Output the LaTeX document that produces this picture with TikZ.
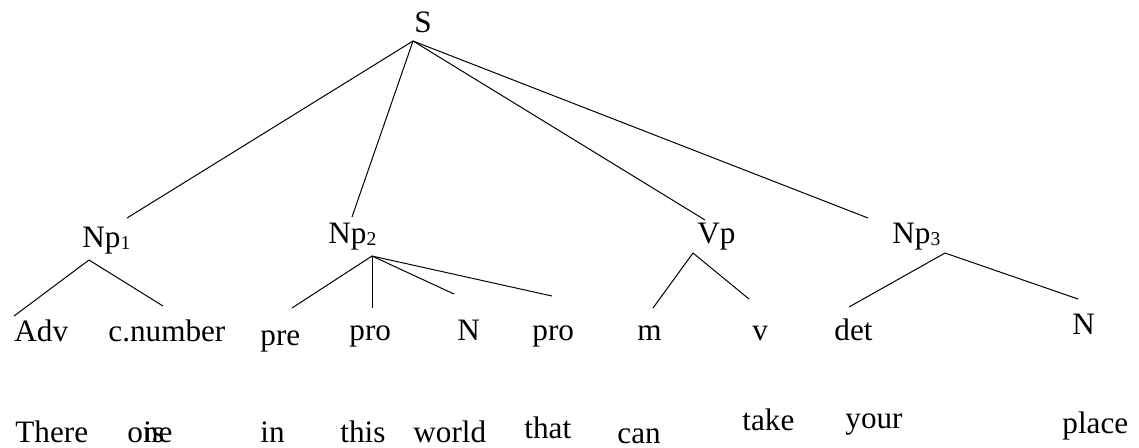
\documentclass[tikz,border=0pt]{standalone}
\usepackage{fontspec}
\setmainfont{Liberation Serif}
\usetikzlibrary{positioning}
\tikzset{
  lab/.style={inner sep=0pt,anchor=base west,font=\fontsize{15.6}{18}\selectfont},
  br/.style={line width=0.5pt,black}
}
\newcommand{\subn}[1]{\raisebox{-1pt}{\fontsize{9.8}{11}\selectfont #1}}

\begin{document}
\begin{tikzpicture}[x=0.5pt,y=-0.5pt]
\useasboundingbox (0,0) rectangle (1139,447);
% phrase level
\node[lab,anchor=base] (s) at (423,32) {S};
\node[lab] (np1) at (82,247) {Np\subn{1}};
\node[lab] (np2) at (328,243) {Np\subn{2}};
\node[lab] (vp) at (697,243) {Vp};
\node[lab] (np3) at (892,243) {Np\subn{3}};
% word classes
\node[lab] (adv) at (14,341) {Adv};
\node[lab] (cnum) at (108,341) {c.number};
\node[lab] (pre) at (260,345) {pre};
\node[lab] (proa) at (349,340) {pro};
\node[lab] (na) at (457,340) {N};
\node[lab] (prob) at (532,340) {pro};
\node[lab] (m) at (637,340) {m};
\node[lab] (v) at (752,340) {v};
\node[lab] (det) at (834,340) {det};
\node[lab] (nb) at (1072,334) {N};
% words
\foreach \x/\y/\w [count=\i] in {15/442/There,127/442/one,143/442/is,260/442/in,
  340/442/this,413/442/world,524/438/that,617/443/can,742/430/take,
  845/428/your,1062/433/place}
  \node[lab] (w\i) at (\x,\y) {\w};
% branch points
\coordinate (s-o) at (413,41);
\coordinate (np1-o) at (89,260);
\coordinate (np2-o) at (372,256);
\coordinate (vp-o) at (693,253);
\coordinate (np3-o) at (945,253);
\coordinate (np1-e) at (127,218);
\coordinate (np2-e) at (352,217);
\coordinate (vp-e) at (705,220);
\coordinate (np3-e) at (868,218);
\coordinate (adv-e) at (14,316);
\coordinate (cnum-e) at (163,306);
\coordinate (pre-e) at (292,308);
\coordinate (proa-e) at (372,308);
\coordinate (na-e) at (454,294);
\coordinate (prob-e) at (552,296);
\coordinate (m-e) at (653,308);
\coordinate (v-e) at (749,299);
\coordinate (det-e) at (849,307);
\coordinate (nb-e) at (1078,299);
% branches
\foreach \e in {np1,np2,vp,np3}{\draw[br] (s-o) -- (\e-e);}
\foreach \e in {adv,cnum}{\draw[br] (np1-o) -- (\e-e);}
\foreach \e in {pre,proa,na,prob}{\draw[br] (np2-o) -- (\e-e);}
\foreach \e in {m,v}{\draw[br] (vp-o) -- (\e-e);}
\foreach \e in {det,nb}{\draw[br] (np3-o) -- (\e-e);}
\end{tikzpicture}
\end{document}
